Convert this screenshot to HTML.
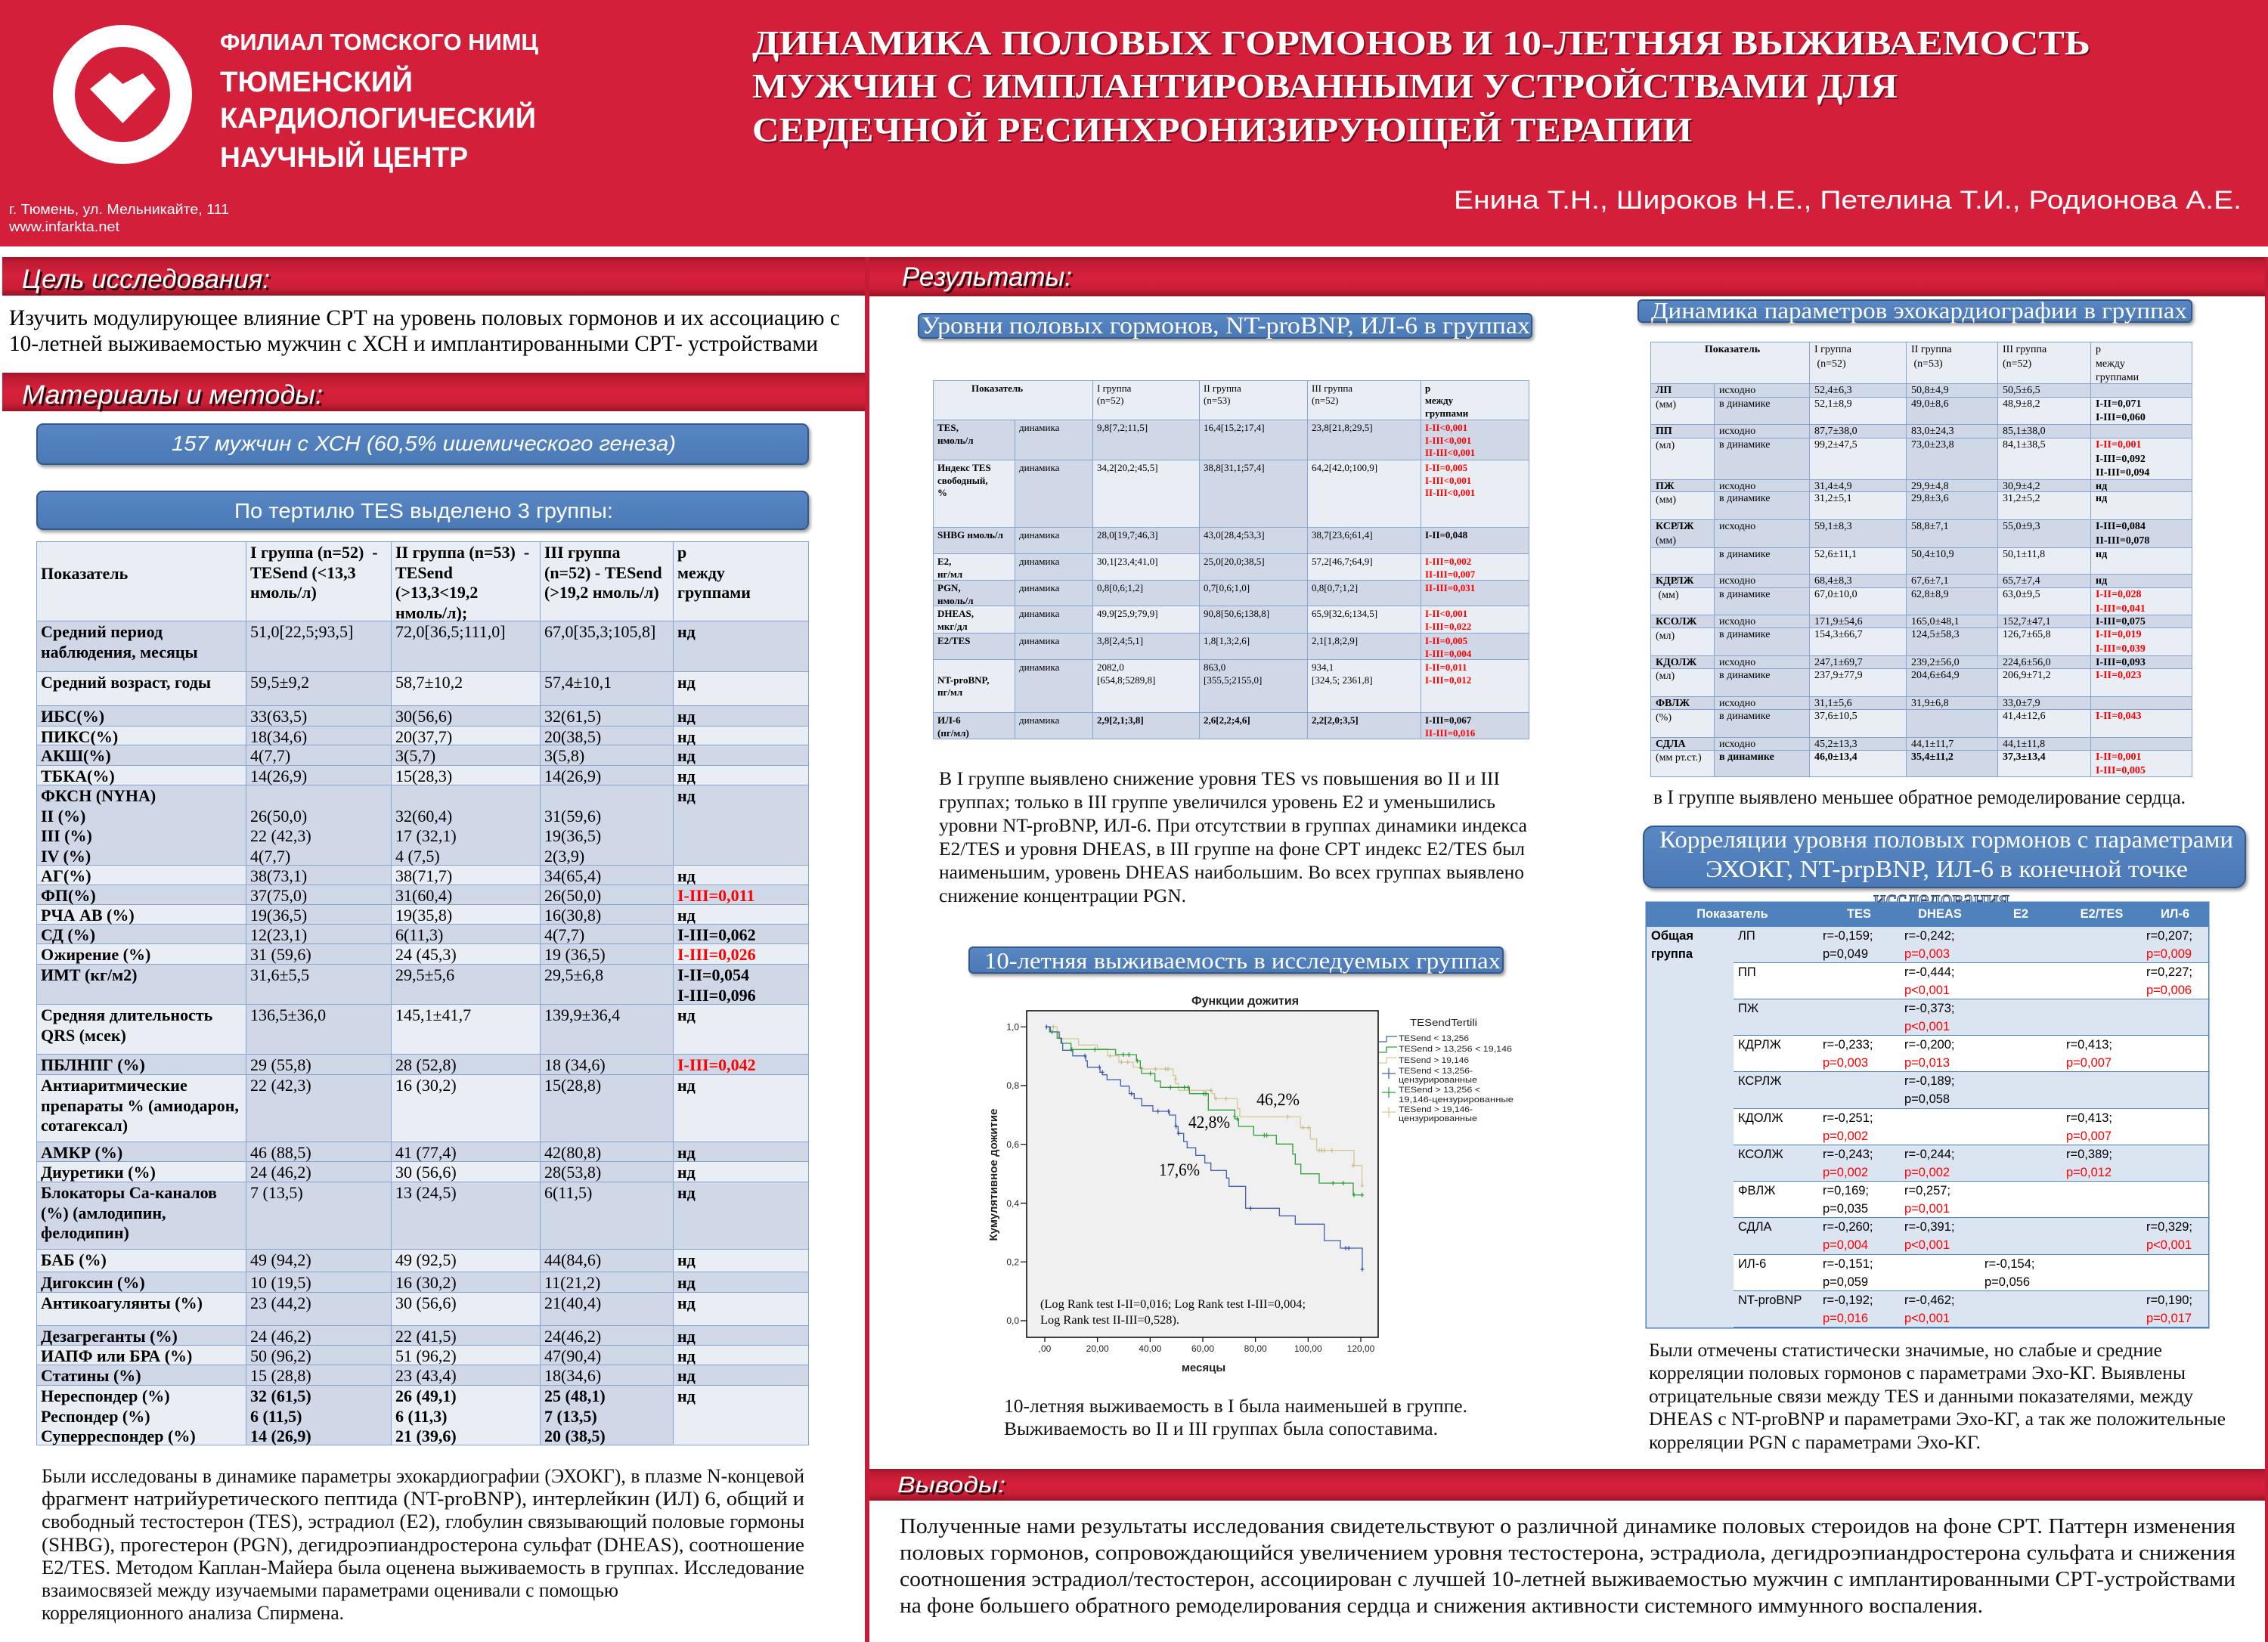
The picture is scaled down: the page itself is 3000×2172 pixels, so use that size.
<!DOCTYPE html>
<html><head><meta charset="utf-8">
<style>
*{margin:0;padding:0}
body{width:3000px;height:2172px;overflow:hidden;background:#fff}
#p{position:relative;width:3000px;height:2172px;overflow:hidden;background:#fff;font-family:"Liberation Serif","Noto Serif CJK SC",serif;color:#000}
.a{position:absolute}
.band{position:absolute;background:linear-gradient(to bottom,#a0152a 0%,#c01b33 15%,#d7213c 50%,#cc1e37 80%,#9a1326 100%)}
.bb{position:absolute;box-sizing:border-box;background:linear-gradient(to bottom,#5887c4,#4a79b6);border:2px solid #34588a;border-radius:9px;box-shadow:2px 3px 4px rgba(0,0,0,.4)}
.tb{position:absolute}
.r{display:flex}
.tb .r>div{box-sizing:border-box;height:100%;border-right:1.5px solid #86a4d0;border-bottom:1.5px solid #86a4d0;white-space:nowrap;background:#e9edf4;overflow:visible}
.tb .r>div:first-child{border-left:1.5px solid #86a4d0}
.tb .h>div{border-top:1.5px solid #86a4d0}
.tb .d>div{background:#d0d8e8}
.tb .l>div:nth-child(2),.tb .l>div:nth-child(4){background:#d0d8e8}
.rd{color:#f00}
.o{position:relative}
.t1{left:48px;top:716px;width:1022px;font-size:22px;line-height:26.5px}
.t1 .r>div{padding:1px 0 0 5px}
.t1 .r>div:nth-child(1){width:278px;font-weight:bold}
.t1 .r>div:nth-child(2){width:192px}
.t1 .r>div:nth-child(3){width:197px}
.t1 .r>div:nth-child(4){width:176px}
.t1 .r>div:nth-child(5){width:179px;font-weight:bold}
.t1 .h>div{font-weight:bold}
.t2{left:1234px;top:502.5px;width:789px;font-size:13px;line-height:16.5px}
.t2 .r>div{padding:2px 0 0 5px}
.t2 .r>div:nth-child(1){width:109px;font-weight:bold}
.t2 .r>div:nth-child(2){width:103px}
.t2 .r>div:nth-child(3){width:141px}
.t2 .r>div:nth-child(4){width:143px}
.t2 .r>div:nth-child(5){width:150px}
.t2 .r>div:nth-child(6){width:143px;font-weight:bold}
.t3{left:2183px;top:452px;width:717px;font-size:14px;line-height:18.5px}
.t3 .r>div{padding:0 0 0 6px}
.t3 .r>div:nth-child(1){width:85px}
.t3 .r>div:nth-child(2){width:126px}
.t3 .r>div:nth-child(3){width:128px}
.t3 .r>div:nth-child(4){width:121px}
.t3 .r>div:nth-child(5){width:123px}
.t3 .r>div:nth-child(6){width:134px;font-weight:bold}
.t4{position:absolute;left:2178px;top:1193.5px;width:743px;font-family:"Liberation Sans",sans-serif;font-size:16.5px;line-height:24px;box-shadow:0 0 0 1.5px #4f81bd;background:#fff}
.t4 .r>div{box-sizing:border-box;height:100%;padding-left:6px;white-space:nowrap}
.t4 .r>div:nth-child(1){width:115px;background:#dbe5f1;font-weight:bold}
.t4 .r>div:nth-child(2){width:112px}
.t4 .r>div:nth-child(3){width:108px}
.t4 .r>div:nth-child(4){width:106px}
.t4 .r>div:nth-child(5){width:108px}
.t4 .r>div:nth-child(6){width:106px}
.t4 .r>div:nth-child(7){width:88px}
.t4 .r>div:not(:first-child){border-bottom:1.5px solid #4f81bd}
.t4 .b>div{background:#dbe5f1}
.t4 .hh{height:32px}
.t4 .hh>div{background:#4f81bd!important;color:#fff;font-weight:bold;text-align:center;padding:3px 0 0 0!important;border:none!important}
</style></head>
<body><div id="p">

<!-- header -->
<div class="a" style="left:0;top:0;width:3000px;height:326px;background:#d41f3b"></div>

<!-- bands -->
<div class="band" style="left:3px;top:340px;width:1141px;height:51px"></div>
<div class="band" style="left:1150px;top:340px;width:1850px;height:52px"></div>
<div class="band" style="left:3px;top:493px;width:1141px;height:51px"></div>
<div class="band" style="left:1150px;top:1943px;width:1850px;height:42px"></div>

<!-- vertical red lines -->
<div class="a" style="left:1144px;top:340px;width:6px;height:1832px;background:#c41c36"></div>
<div class="a" style="left:2996px;top:340px;width:4px;height:1832px;background:#c41c36"></div>

<!-- blue boxes -->
<div class="bb" style="left:48px;top:560px;width:1022px;height:55px"></div>
<div class="bb" style="left:48px;top:649px;width:1022px;height:52px"></div>
<div class="bb" style="left:1214px;top:414px;width:813px;height:34px;border-radius:6px"></div>
<div class="bb" style="left:1281px;top:1252px;width:708px;height:36px;border-radius:6px"></div>
<div class="bb" style="left:2166px;top:396px;width:734px;height:31px;border-radius:6px"></div>
<div class="bb" style="left:2173px;top:1092px;width:798px;height:83px;border-radius:14px"></div>

<!-- left table -->
<div class="tb t1">
<div class="r h" style="height:106px"><div style="padding-top:29px">Показатель</div><div>I группа (n=52)&nbsp; -<br>TESend (&lt;13,3<br>нмоль/л)</div><div>II группа (n=53)&nbsp; -<br>TESend<br>(&gt;13,3&lt;19,2<br>нмоль/л);</div><div>III группа<br>(n=52) - TESend<br>(&gt;19,2 нмоль/л)</div><div>р<br>между<br>группами</div></div>
<div class="r d" style="height:67px"><div>Средний период<br>наблюдения, месяцы</div><div>51,0[22,5;93,5]</div><div>72,0[36,5;111,0]</div><div>67,0[35,3;105,8]</div><div>нд</div></div>
<div class="r l" style="height:45px"><div>Средний возраст, годы</div><div>59,5±9,2</div><div>58,7±10,2</div><div>57,4±10,1</div><div>нд</div></div>
<div class="r d" style="height:26.5px"><div>ИБС(%)</div><div>33(63,5)</div><div>30(56,6)</div><div>32(61,5)</div><div>нд</div></div>
<div class="r l" style="height:25.5px"><div>ПИКС(%)</div><div>18(34,6)</div><div>20(37,7)</div><div>20(38,5)</div><div>нд</div></div>
<div class="r d" style="height:27px"><div>АКШ(%)</div><div>4(7,7)</div><div>3(5,7)</div><div>3(5,8)</div><div>нд</div></div>
<div class="r l" style="height:26px"><div>ТБКА(%)</div><div>14(26,9)</div><div>15(28,3)</div><div>14(26,9)</div><div>нд</div></div>
<div class="r d" style="height:106px"><div>ФКСН (NYHA)<br>II (%)<br>III (%)<br>IV (%)</div><div><br>26(50,0)<br>22 (42,3)<br>4(7,7)</div><div><br>32(60,4)<br>17 (32,1)<br>4 (7,5)</div><div><br>31(59,6)<br>19(36,5)<br>2(3,9)</div><div>нд</div></div>
<div class="r l" style="height:26px"><div>АГ(%)</div><div>38(73,1)</div><div>38(71,7)</div><div>34(65,4)</div><div>нд</div></div>
<div class="r d" style="height:26px"><div>ФП(%)</div><div>37(75,0)</div><div>31(60,4)</div><div>26(50,0)</div><div class="rd">I-III=0,011</div></div>
<div class="r l" style="height:26px"><div>РЧА АВ (%)</div><div>19(36,5)</div><div>19(35,8)</div><div>16(30,8)</div><div>нд</div></div>
<div class="r d" style="height:26px"><div>СД (%)</div><div>12(23,1)</div><div>6(11,3)</div><div>4(7,7)</div><div>I-III=0,062</div></div>
<div class="r l" style="height:27px"><div>Ожирение (%)</div><div>31 (59,6)</div><div>24 (45,3)</div><div>19 (36,5)</div><div class="rd">I-III=0,026</div></div>
<div class="r d" style="height:53px"><div>ИМТ (кг/м2)</div><div>31,6±5,5</div><div>29,5±5,6</div><div>29,5±6,8</div><div>I-II=0,054<br>I-III=0,096</div></div>
<div class="r l" style="height:66px"><div>Средняя длительность<br>QRS (мсек)</div><div>136,5±36,0</div><div>145,1±41,7</div><div>139,9±36,4</div><div>нд</div></div>
<div class="r d" style="height:27px"><div>ПБЛНПГ (%)</div><div>29 (55,8)</div><div>28 (52,8)</div><div>18 (34,6)</div><div class="rd">I-III=0,042</div></div>
<div class="r l" style="height:89px"><div>Антиаритмические<br>препараты % (амиодарон,<br>сотагексал)</div><div>22 (42,3)</div><div>16 (30,2)</div><div>15(28,8)</div><div>нд</div></div>
<div class="r d" style="height:26px"><div>АМКР (%)</div><div>46 (88,5)</div><div>41 (77,4)</div><div>42(80,8)</div><div>нд</div></div>
<div class="r l" style="height:27px"><div>Диуретики (%)</div><div>24 (46,2)</div><div>30 (56,6)</div><div>28(53,8)</div><div>нд</div></div>
<div class="r d" style="height:89px"><div>Блокаторы Са-каналов<br>(%) (амлодипин,<br>фелодипин)</div><div>7 (13,5)</div><div>13 (24,5)</div><div>6(11,5)</div><div>нд</div></div>
<div class="r l" style="height:30px"><div>БАБ (%)</div><div>49 (94,2)</div><div>49 (92,5)</div><div>44(84,6)</div><div>нд</div></div>
<div class="r d" style="height:27px"><div>Дигоксин (%)</div><div>10 (19,5)</div><div>16 (30,2)</div><div>11(21,2)</div><div>нд</div></div>
<div class="r l" style="height:44px"><div>Антикоагулянты (%)</div><div>23 (44,2)</div><div>30 (56,6)</div><div>21(40,4)</div><div>нд</div></div>
<div class="r d" style="height:26px"><div>Дезагреганты (%)</div><div>24 (46,2)</div><div>22 (41,5)</div><div>24(46,2)</div><div>нд</div></div>
<div class="r l" style="height:26px"><div>ИАПФ или БРА (%)</div><div>50 (96,2)</div><div>51 (96,2)</div><div>47(90,4)</div><div>нд</div></div>
<div class="r d" style="height:27px"><div>Статины (%)</div><div>15 (28,8)</div><div>23 (43,4)</div><div>18(34,6)</div><div>нд</div></div>
<div class="r l" style="height:79px"><div>Нереспондер (%)<br>Респондер (%)<br>Суперреспондер (%)</div><div><b>32 (61,5)<br>6 (11,5)<br>14 (26,9)</b></div><div><b>26 (49,1)<br>6 (11,3)<br>21 (39,6)</b></div><div><b>25 (48,1)<br>7 (13,5)<br>20 (38,5)</b></div><div>нд</div></div>
</div>

<!-- hormones table -->
<div class="tb t2">
<div class="r h" style="height:53.5px"><div style="width:212px;padding-left:50px;font-weight:bold">Показатель</div><div style="width:141px">I группа<br>(n=52)</div><div style="width:143px">II группа<br>(n=53)</div><div style="width:150px">III группа<br>(n=52)</div><div style="width:143px;font-weight:bold">р<br>между<br>группами</div></div>
<div class="r d" style="height:53px"><div>TES,<br>нмоль/л</div><div>динамика</div><div>9,8[7,2;11,5]</div><div>16,4[15,2;17,4]</div><div>23,8[21,8;29,5]</div><div class="rd">I-II&lt;0,001<br>I-III&lt;0,001<br>II-III&lt;0,001</div></div>
<div class="r l" style="height:89px"><div>Индекс TES<br>свободный,<br>%</div><div>динамика</div><div>34,2[20,2;45,5]</div><div>38,8[31,1;57,4]</div><div>64,2[42,0;100,9]</div><div class="rd">I-II=0,005<br>I-III&lt;0,001<br>II-III&lt;0,001</div></div>
<div class="r d" style="height:35px"><div>SHBG нмоль/л</div><div>динамика</div><div>28,0[19,7;46,3]</div><div>43,0[28,4;53,3]</div><div>38,7[23,6;61,4]</div><div>I-II=0,048</div></div>
<div class="r l" style="height:35px"><div>E2,<br>нг/мл</div><div>динамика</div><div>30,1[23,4;41,0]</div><div>25,0[20,0;38,5]</div><div>57,2[46,7;64,9]</div><div class="rd">I-III=0,002<br>II-III=0,007</div></div>
<div class="r d" style="height:34px"><div>PGN,<br>нмоль/л</div><div>динамика</div><div>0,8[0,6;1,2]</div><div>0,7[0,6;1,0]</div><div>0,8[0,7;1,2]</div><div class="rd">II-III=0,031</div></div>
<div class="r l" style="height:36px"><div>DHEAS,<br>мкг/дл</div><div>динамика</div><div>49,9[25,9;79,9]</div><div>90,8[50,6;138,8]</div><div>65,9[32,6;134,5]</div><div class="rd">I-II&lt;0,001<br>I-III=0,022</div></div>
<div class="r d" style="height:35px"><div>E2/TES</div><div>динамика</div><div>3,8[2,4;5,1]</div><div>1,8[1,3;2,6]</div><div>2,1[1,8;2,9]</div><div class="rd">I-II=0,005<br>I-III=0,004</div></div>
<div class="r l" style="height:70px"><div><br>NT-proBNP,<br>пг/мл</div><div>динамика</div><div>2082,0<br>[654,8;5289,8]</div><div>863,0<br>[355,5;2155,0]</div><div>934,1<br>[324,5; 2361,8]</div><div class="rd">I-II=0,011<br>I-III=0,012</div></div>
<div class="r d" style="height:35px"><div>ИЛ-6<br>(пг/мл)</div><div>динамика</div><div><b>2,9[2,1;3,8]</b></div><div><b>2,6[2,2;4,6]</b></div><div><b>2,2[2,0;3,5]</b></div><div>I-III=0,067<br><span class="rd">II-III=0,016</span></div></div>
</div>

<!-- echo table -->
<div class="tb t3">
<div class="r h" style="height:56px"><div style="width:211px;text-align:center;font-weight:bold;padding-top:1px">Показатель</div><div style="width:128px;padding-top:1px">I группа<br>&nbsp;(n=52)</div><div style="width:121px;padding-top:1px">II группа<br>&nbsp;(n=53)</div><div style="width:123px;padding-top:1px">III группа<br>(n=52)</div><div style="width:134px;padding-top:1px;font-weight:normal">р<br>между<br>группами</div></div>
<div class="r d" style="height:17.5px"><div><span class="o"><b>ЛП</b><br>(мм)</span></div><div>исходно</div><div>52,4±6,3</div><div>50,8±4,9</div><div>50,5±6,5</div><div></div></div>
<div class="r l" style="height:36.5px"><div></div><div>в динамике</div><div>52,1±8,9</div><div>49,0±8,6</div><div>48,9±8,2</div><div>I-II=0,071<br>I-III=0,060</div></div>
<div class="r d" style="height:18px"><div><span class="o"><b>ПП</b><br>(мл)</span></div><div>исходно</div><div>87,7±38,0</div><div>83,0±24,3</div><div>85,1±38,0</div><div></div></div>
<div class="r l" style="height:54.5px"><div></div><div>в динамике</div><div>99,2±47,5</div><div>73,0±23,8</div><div>84,1±38,5</div><div><span class="rd">I-II=0,001</span><br>I-III=0,092<br>II-III=0,094</div></div>
<div class="r d" style="height:16.5px"><div><span class="o"><b>ПЖ</b><br>(мм)</span></div><div>исходно</div><div>31,4±4,9</div><div>29,9±4,8</div><div>30,9±4,2</div><div>нд</div></div>
<div class="r l" style="height:37px"><div></div><div>в динамике</div><div>31,2±5,1</div><div>29,8±3,6</div><div>31,2±5,2</div><div>нд</div></div>
<div class="r d" style="height:37px"><div><span class="o"><b>КСРЛЖ</b><br>(мм)</span></div><div>исходно</div><div>59,1±8,3</div><div>58,8±7,1</div><div>55,0±9,3</div><div>I-III=0,084<br>II-III=0,078</div></div>
<div class="r l" style="height:35px"><div></div><div>в динамике</div><div>52,6±11,1</div><div>50,4±10,9</div><div>50,1±11,8</div><div>нд</div></div>
<div class="r d" style="height:18px"><div><span class="o"><b>КДРЛЖ</b><br>&nbsp;(мм)</span></div><div>исходно</div><div>68,4±8,3</div><div>67,6±7,1</div><div>65,7±7,4</div><div>нд</div></div>
<div class="r l" style="height:36px"><div></div><div>в динамике</div><div>67,0±10,0</div><div>62,8±8,9</div><div>63,0±9,5</div><div class="rd">I-II=0,028<br>I-III=0,041</div></div>
<div class="r d" style="height:17px"><div><span class="o"><b>КСОЛЖ</b><br>(мл)</span></div><div>исходно</div><div>171,9±54,6</div><div>165,0±48,1</div><div>152,7±47,1</div><div>I-III=0,075</div></div>
<div class="r l" style="height:36.5px"><div></div><div>в динамике</div><div>154,3±66,7</div><div>124,5±58,3</div><div>126,7±65,8</div><div class="rd">I-II=0,019<br>I-III=0,039</div></div>
<div class="r d" style="height:17.5px"><div><span class="o"><b>КДОЛЖ</b><br>(мл)</span></div><div>исходно</div><div>247,1±69,7</div><div>239,2±56,0</div><div>224,6±56,0</div><div>I-III=0,093</div></div>
<div class="r l" style="height:37px"><div></div><div>в динамике</div><div>237,9±77,9</div><div>204,6±64,9</div><div>206,9±71,2</div><div class="rd">I-II=0,023</div></div>
<div class="r d" style="height:17px"><div><span class="o"><b>ФВЛЖ</b><br>(%)</span></div><div>исходно</div><div>31,1±5,6</div><div>31,9±6,8</div><div>33,0±7,9</div><div></div></div>
<div class="r l" style="height:36.5px"><div></div><div>в динамике</div><div>37,6±10,5</div><div></div><div>41,4±12,6</div><div class="rd">I-II=0,043</div></div>
<div class="r d" style="height:17px"><div><span class="o"><b>СДЛА</b><br>(мм рт.ст.)</span></div><div>исходно</div><div>45,2±13,3</div><div>44,1±11,7</div><div>44,1±11,8</div><div></div></div>
<div class="r l" style="height:35.5px"><div></div><div><b>в динамике</b></div><div><b>46,0±13,4</b></div><div><b>35,4±11,2</b></div><div><b>37,3±13,4</b></div><div class="rd">I-II=0,001<br>I-III=0,005</div></div>
</div>

<!-- correlation table -->
<div class="t4">
<div class="r hh"><div style="width:227px">Показатель</div><div style="width:108px">TES</div><div style="width:106px">DHEAS</div><div style="width:108px">E2</div><div style="width:106px">E2/TES</div><div style="width:88px">ИЛ-6</div></div>
<div class="r b" style="height:48.2px"><div>Общая<br>группа</div><div>ЛП</div><div>r=-0,159;<br>p=0,049</div><div>r=-0,242;<br><span class="rd">p=0,003</span></div><div></div><div></div><div>r=0,207;<br><span class="rd">p=0,009</span></div></div>
<div class="r" style="height:48.2px"><div></div><div>ПП</div><div></div><div>r=-0,444;<br><span class="rd">p&lt;0,001</span></div><div></div><div></div><div>r=0,227;<br><span class="rd">p=0,006</span></div></div>
<div class="r b" style="height:48.3px"><div></div><div>ПЖ</div><div></div><div>r=-0,373;<br><span class="rd">p&lt;0,001</span></div><div></div><div></div><div></div></div>
<div class="r" style="height:48.2px"><div></div><div>КДРЛЖ</div><div>r=-0,233;<br><span class="rd">p=0,003</span></div><div>r=-0,200;<br><span class="rd">p=0,013</span></div><div></div><div>r=0,413;<br><span class="rd">p=0,007</span></div><div></div></div>
<div class="r b" style="height:48.2px"><div></div><div>КСРЛЖ</div><div></div><div>r=-0,189;<br>p=0,058</div><div></div><div></div><div></div></div>
<div class="r" style="height:48.3px"><div></div><div>КДОЛЖ</div><div>r=-0,251;<br><span class="rd">p=0,002</span></div><div></div><div></div><div>r=0,413;<br><span class="rd">p=0,007</span></div><div></div></div>
<div class="r b" style="height:48.2px"><div></div><div>КСОЛЖ</div><div>r=-0,243;<br><span class="rd">p=0,002</span></div><div>r=-0,244;<br><span class="rd">p=0,002</span></div><div></div><div>r=0,389;<br><span class="rd">p=0,012</span></div><div></div></div>
<div class="r" style="height:48.2px"><div></div><div>ФВЛЖ</div><div>r=0,169;<br>p=0,035</div><div>r=0,257;<br><span class="rd">p=0,001</span></div><div></div><div></div><div></div></div>
<div class="r b" style="height:48.3px"><div></div><div>СДЛА</div><div>r=-0,260;<br><span class="rd">p=0,004</span></div><div>r=-0,391;<br><span class="rd">p&lt;0,001</span></div><div></div><div></div><div>r=0,329;<br><span class="rd">p&lt;0,001</span></div></div>
<div class="r" style="height:48.2px"><div></div><div>ИЛ-6</div><div>r=-0,151;<br>p=0,059</div><div></div><div>r=-0,154;<br>p=0,056</div><div></div><div></div></div>
<div class="r b" style="height:48.2px"><div></div><div>NT-proBNP</div><div>r=-0,192;<br><span class="rd">p=0,016</span></div><div>r=-0,462;<br><span class="rd">p&lt;0,001</span></div><div></div><div></div><div>r=0,190;<br><span class="rd">p=0,017</span></div></div>
</div>

<!-- overlay -->
<svg class="a" style="left:0;top:0" width="3000" height="2172" viewBox="0 0 3000 2172">
<defs><clipPath id="cp"><rect x="2100" y="1170" width="900" height="23.5"/></clipPath></defs>

<!-- logo -->
<circle cx="162" cy="125" r="77.5" fill="none" stroke="#fff" stroke-width="29"/>
<polygon points="119,117.7 145.4,96 162.4,111 189,97 206,117.7 162.4,163" fill="#fff"/>
<g fill="#fff" font-family="Liberation Sans, sans-serif" font-weight="bold">
<text x="291" y="66" font-size="31" textLength="421" lengthAdjust="spacingAndGlyphs">ФИЛИАЛ ТОМСКОГО НИМЦ</text>
<text x="291" y="121" font-size="38" textLength="255" lengthAdjust="spacingAndGlyphs">ТЮМЕНСКИЙ</text>
<text x="291" y="169" font-size="38" textLength="418" lengthAdjust="spacingAndGlyphs">КАРДИОЛОГИЧЕСКИЙ</text>
<text x="291" y="221" font-size="38" textLength="328" lengthAdjust="spacingAndGlyphs">НАУЧНЫЙ ЦЕНТР</text>
</g>
<g fill="#fff" font-family="Liberation Sans, sans-serif" font-size="18">
<text x="12" y="283" textLength="291" lengthAdjust="spacingAndGlyphs">г. Тюмень, ул. Мельникайте, 111</text>
<text x="12" y="306" textLength="146" lengthAdjust="spacingAndGlyphs">www.infarkta.net</text>
</g>

<!-- title -->
<g font-family="Liberation Serif, serif" font-weight="bold" font-size="46">
<g fill="#5a0a14" fill-opacity="0.75">
<text x="997" y="74" textLength="1770" lengthAdjust="spacingAndGlyphs">ДИНАМИКА ПОЛОВЫХ ГОРМОНОВ И 10-ЛЕТНЯЯ ВЫЖИВАЕМОСТЬ</text>
<text x="997" y="131" textLength="1515" lengthAdjust="spacingAndGlyphs">МУЖЧИН С ИМПЛАНТИРОВАННЫМИ УСТРОЙСТВАМИ ДЛЯ</text>
<text x="997" y="189" textLength="1243" lengthAdjust="spacingAndGlyphs">СЕРДЕЧНОЙ РЕСИНХРОНИЗИРУЮЩЕЙ ТЕРАПИИ</text>
</g>
<g fill="#fff">
<text x="995" y="72" textLength="1770" lengthAdjust="spacingAndGlyphs">ДИНАМИКА ПОЛОВЫХ ГОРМОНОВ И 10-ЛЕТНЯЯ ВЫЖИВАЕМОСТЬ</text>
<text x="995" y="129" textLength="1515" lengthAdjust="spacingAndGlyphs">МУЖЧИН С ИМПЛАНТИРОВАННЫМИ УСТРОЙСТВАМИ ДЛЯ</text>
<text x="995" y="187" textLength="1243" lengthAdjust="spacingAndGlyphs">СЕРДЕЧНОЙ РЕСИНХРОНИЗИРУЮЩЕЙ ТЕРАПИИ</text>
</g>
</g>
<text x="1923" y="276" fill="#fff" font-family="Liberation Sans, sans-serif" font-size="34" textLength="1042" lengthAdjust="spacingAndGlyphs">Енина Т.Н., Широков Н.Е., Петелина Т.И., Родионова А.Е.</text>

<!-- band labels -->
<g font-family="Liberation Sans, sans-serif" font-style="italic" font-size="35">
<g fill="#1a0306" fill-opacity="0.9">
<text x="32" y="384" textLength="328" lengthAdjust="spacingAndGlyphs">Цель исследования:</text>
<text x="32" y="537" textLength="398" lengthAdjust="spacingAndGlyphs">Материалы и методы:</text>
<text x="1196" y="381" textLength="225" lengthAdjust="spacingAndGlyphs">Результаты:</text>
<text x="1190" y="1977" font-size="30" textLength="143" lengthAdjust="spacingAndGlyphs">Выводы:</text>
</g>
<g fill="#fff">
<text x="29" y="381" textLength="328" lengthAdjust="spacingAndGlyphs">Цель исследования:</text>
<text x="29" y="534" textLength="398" lengthAdjust="spacingAndGlyphs">Материалы и методы:</text>
<text x="1193" y="378" textLength="225" lengthAdjust="spacingAndGlyphs">Результаты:</text>
<text x="1187" y="1974" font-size="30" textLength="143" lengthAdjust="spacingAndGlyphs">Выводы:</text>
</g>
</g>

<!-- objective -->
<g font-family="Liberation Serif, serif" font-size="30" fill="#000">
<text x="12" y="430" textLength="1099" lengthAdjust="spacingAndGlyphs">Изучить модулирующее влияние СРТ на уровень половых гормонов и их ассоциацию с</text>
<text x="12" y="464" textLength="1070" lengthAdjust="spacingAndGlyphs">10-летней выживаемостью мужчин с ХСН и имплантированными СРТ- устройствами</text>
</g>

<!-- left blue box texts -->
<g fill="#fff" font-family="Liberation Sans, sans-serif" font-size="28">
<text x="227" y="596" font-style="italic" textLength="667" lengthAdjust="spacingAndGlyphs">157 мужчин с ХСН (60,5% ишемического генеза)</text>
<text x="310" y="685" textLength="501" lengthAdjust="spacingAndGlyphs">По тертилю TES выделено 3 группы:</text>
</g>

<!-- left paragraph -->
<g font-family="Liberation Serif, serif" font-size="26" fill="#111">
<text x="55" y="1961" textLength="1009" lengthAdjust="spacingAndGlyphs">Были исследованы в динамике параметры эхокардиографии (ЭХОКГ), в плазме N-концевой</text>
<text x="55" y="1991" textLength="1009" lengthAdjust="spacingAndGlyphs">фрагмент натрийуретического пептида (NT-proBNP), интерлейкин (ИЛ) 6, общий и</text>
<text x="55" y="2021" textLength="1009" lengthAdjust="spacingAndGlyphs">свободный тестостерон (TES), эстрадиол (E2), глобулин связывающий половые гормоны</text>
<text x="55" y="2052" textLength="1009" lengthAdjust="spacingAndGlyphs">(SHBG), прогестерон (PGN), дегидроэпиандростерона сульфат (DHEAS), соотношение</text>
<text x="55" y="2082" textLength="1009" lengthAdjust="spacingAndGlyphs">E2/TES. Методом Каплан-Майера была оценена выживаемость в группах. Исследование</text>
<text x="55" y="2112" textLength="763" lengthAdjust="spacingAndGlyphs">взаимосвязей между изучаемыми параметрами оценивали с помощью</text>
<text x="55" y="2142" textLength="400" lengthAdjust="spacingAndGlyphs">корреляционного анализа Спирмена.</text>
</g>

<!-- result banners -->
<g fill="#fff" font-family="Liberation Serif, serif">
<text x="1219" y="441" font-size="32" textLength="805" lengthAdjust="spacingAndGlyphs">Уровни половых гормонов, NT-proBNP, ИЛ-6  в группах</text>
<text x="1302" y="1281" font-size="31" textLength="683" lengthAdjust="spacingAndGlyphs">10-летняя выживаемость в исследуемых группах</text>
<text x="2184" y="421" font-size="31" textLength="709" lengthAdjust="spacingAndGlyphs">Динамика параметров эхокардиографии в группах</text>
<text x="2195" y="1121" font-size="32" textLength="759" lengthAdjust="spacingAndGlyphs">Корреляции уровня половых гормонов с параметрами</text>
<text x="2256" y="1160" font-size="32" textLength="638" lengthAdjust="spacingAndGlyphs">ЭХОКГ, NT-prpBNP, ИЛ-6  в конечной точке</text>
<text x="2478" y="1199" font-size="32" fill="#dfe6f2" stroke="#2c4c7c" stroke-width="1.2" clip-path="url(#cp)" textLength="180" lengthAdjust="spacingAndGlyphs">исследования</text>
</g>

<!-- middle paragraph -->
<g font-family="Liberation Serif, serif" font-size="25" fill="#111">
<text x="1242" y="1038" textLength="742" lengthAdjust="spacingAndGlyphs">В I группе выявлено снижение уровня TES vs повышения во II  и III</text>
<text x="1242" y="1069" textLength="736" lengthAdjust="spacingAndGlyphs">группах; только в III группе увеличился уровень E2 и уменьшились</text>
<text x="1242" y="1100" textLength="778" lengthAdjust="spacingAndGlyphs">уровни NT-proBNP, ИЛ-6. При отсутствии в группах динамики индекса</text>
<text x="1242" y="1131" textLength="775" lengthAdjust="spacingAndGlyphs">E2/TES и уровня DHEAS, в III группе на фоне СРТ индекс E2/TES был</text>
<text x="1242" y="1162" textLength="774" lengthAdjust="spacingAndGlyphs">наименьшим, уровень DHEAS наибольшим. Во всех группах выявлено</text>
<text x="1242" y="1193" textLength="327" lengthAdjust="spacingAndGlyphs">снижение концентрации PGN.</text>
<text x="1328" y="1868" textLength="613" lengthAdjust="spacingAndGlyphs">10-летняя выживаемость в I была наименьшей в группе.</text>
<text x="1328" y="1898" textLength="574" lengthAdjust="spacingAndGlyphs">Выживаемость во II и III группах была сопоставима.</text>
<text x="2187" y="1063" font-size="26" textLength="704" lengthAdjust="spacingAndGlyphs">в I группе выявлено меньшее обратное ремоделирование сердца.</text>
<text x="2181" y="1794" textLength="679" lengthAdjust="spacingAndGlyphs">Были отмечены статистически значимые, но слабые и средние</text>
<text x="2181" y="1824" textLength="710" lengthAdjust="spacingAndGlyphs">корреляции половых гормонов с параметрами Эхо-КГ. Выявлены</text>
<text x="2181" y="1855" textLength="720" lengthAdjust="spacingAndGlyphs">отрицательные связи между TES и данными показателями, между</text>
<text x="2181" y="1885" textLength="763" lengthAdjust="spacingAndGlyphs">DHEAS с NT-proBNP и параметрами Эхо-КГ, а так же положительные</text>
<text x="2181" y="1916" textLength="439" lengthAdjust="spacingAndGlyphs">корреляции PGN с параметрами Эхо-КГ.</text>
</g>

<!-- conclusions -->
<g font-family="Liberation Serif, serif" font-size="29" fill="#111">
<text x="1190" y="2028" textLength="1767" lengthAdjust="spacingAndGlyphs">Полученные нами результаты исследования свидетельствуют о различной динамике половых стероидов на фоне СРТ. Паттерн изменения</text>
<text x="1190" y="2063" textLength="1767" lengthAdjust="spacingAndGlyphs">половых гормонов, сопровождающийся увеличением уровня тестостерона, эстрадиола, дегидроэпиандростерона сульфата и снижения</text>
<text x="1190" y="2098" textLength="1767" lengthAdjust="spacingAndGlyphs">соотношения эстрадиол/тестостерон, ассоциирован с лучшей 10-летней выживаемостью мужчин с имплантированными СРТ-устройствами</text>
<text x="1190" y="2133" textLength="1433" lengthAdjust="spacingAndGlyphs">на фоне большего обратного ремоделирования сердца и снижения активности системного иммунного воспаления.</text>
</g>

<!-- chart -->
<g font-family="Liberation Sans, sans-serif" fill="#222">
<text x="1647" y="1329" font-size="16" font-weight="bold" text-anchor="middle">Функции дожития</text>
<rect x="1358" y="1337" width="465" height="432" fill="#f0f0f0" stroke="#000" stroke-width="1.5"/>
<path d="M1350,1358.3H1358M1350,1436H1358M1350,1513.7H1358M1350,1591.5H1358M1350,1669.2H1358M1350,1747H1358M1382,1769V1775M1451.7,1769V1775M1521.3,1769V1775M1591,1769V1775M1660.7,1769V1775M1730.3,1769V1775M1800,1769V1775" stroke="#000" stroke-width="1.2"/>
<g font-size="12" text-anchor="end">
<text x="1348" y="1362.5">1,0</text><text x="1348" y="1440">0,8</text><text x="1348" y="1518">0,6</text><text x="1348" y="1596">0,4</text><text x="1348" y="1673.5">0,2</text><text x="1348" y="1751">0,0</text>
</g>
<g font-size="12" text-anchor="middle">
<text x="1382" y="1788">,00</text><text x="1451.7" y="1788">20,00</text><text x="1521.3" y="1788">40,00</text><text x="1591" y="1788">60,00</text><text x="1660.7" y="1788">80,00</text><text x="1730.3" y="1788">100,00</text><text x="1800" y="1788">120,00</text>
</g>
<text x="1592" y="1814" font-size="15" font-weight="bold" text-anchor="middle">месяцы</text>
<text transform="translate(1319,1554) rotate(-90)" font-size="15" font-weight="bold" text-anchor="middle" textLength="175" lengthAdjust="spacingAndGlyphs">Кумулятивное дожитие</text>
</g>
<g transform="translate(1355 1340) scale(0.33333)" fill="none" stroke-width="4">
<path stroke="#d7c897" d="M85,55 H130 V78 H140 V102 H215 V127 H290 V142 H330 V170 H375 V195 H432 V215 H470 V222 H590 V248 H600 V280 H612 V307 H745 V320 H755 V340 H845 V380 H855 V412 H1095 V455 H1135 V500 H1160 V545 H1308 V605 H1340 V685"/>
<path stroke="#2fa33a" d="M85,55 H100 V75 H130 V100 H145 V120 H185 V145 H362 V165 H445 V190 H460 V220 H465 V240 H518 V270 H540 V295 H655 V320 H730 V385 H835 V420 H850 V450 H910 V485 H1000 V520 H1065 V560 H1075 V600 H1097 V638 H1170 V675 H1305 V722 H1345"/>
<path stroke="#4560b3" d="M85,55 H103 V75 H138 V100 H148 V120 H152 V148 H192 V170 H244 V190 H250 V215 H300 V235 H310 V245 H328 V265 H382 V290 H416 V320 H436 V340 H466 V368 H510 V390 H575 V405 H600 V450 H610 V478 H632 V510 H646 V535 H680 V565 H716 V595 H740 V625 H802 V655 H812 V688 H878 V775 H1012 V805 H1075 V838 H1190 V903 H1254 V933 H1341 V1017"/>
<path stroke="#c9b983" stroke-width="3.5" d="M108,55h14M115,46v18M333,170h14M340,161v18M378,195h14M385,186v18M403,195h14M410,186v18M513,222h14M520,213v18M553,222h14M560,213v18M563,222h14M570,213v18M593,262h14M600,253v18M733,307h14M740,298v18M753,340h14M760,331v18M793,340h14M800,331v18M1038,412h14M1045,403v18M1098,455h14M1105,446v18M1121,455h14M1128,446v18M1163,545h14M1170,536v18M1173,545h14M1180,536v18M1183,545h14M1190,536v18M1213,545h14M1220,536v18M1298,605h14M1305,596v18M1333,685h14M1340,676v18"/>
<path stroke="#259a30" stroke-width="3.5" d="M103,75h14M110,66v18M181,145h14M188,136v18M273,145h14M280,136v18M385,165h14M392,156v18M408,165h14M415,156v18M441,190h14M448,181v18M493,240h14M500,231v18M573,295h14M580,286v18M628,295h14M635,286v18M643,295h14M650,286v18M705,320h14M712,311v18M713,320h14M720,311v18M828,410h14M835,401v18M838,420h14M845,411v18M945,485h14M952,476v18M955,485h14M962,476v18M1218,675h14M1225,666v18M1258,675h14M1265,666v18M1301,722h14M1308,713v18M1333,722h14M1340,713v18"/>
<path stroke="#3550a8" stroke-width="3.5" d="M81,55h14M88,46v18M233,170h14M240,161v18M291,215h14M298,206v18M303,235h14M310,226v18M418,320h14M425,311v18M523,390h14M530,381v18M565,390h14M572,381v18M595,450h14M602,441v18M605,478h14M612,469v18M891,775h14M898,766v18M1268,933h14M1275,924v18M1280,933h14M1287,924v18M1334,1017h14M1341,1008v18"/>
</g>
<g font-family="Liberation Serif, serif" fill="#000">
<text x="1662" y="1462" font-size="23" textLength="57" lengthAdjust="spacingAndGlyphs">46,2%</text>
<text x="1572" y="1492" font-size="23" textLength="55" lengthAdjust="spacingAndGlyphs">42,8%</text>
<text x="1533" y="1555" font-size="23" textLength="54" lengthAdjust="spacingAndGlyphs">17,6%</text>
<text x="1376" y="1730" font-size="16" textLength="351" lengthAdjust="spacingAndGlyphs">(Log Rank test I-II=0,016; Log Rank test I-III=0,004;</text>
<text x="1376" y="1751" font-size="16" textLength="184" lengthAdjust="spacingAndGlyphs">Log Rank test II-III=0,528).</text>
</g>
<!-- legend -->
<g font-family="Liberation Sans, sans-serif" fill="#222" font-size="11">
<text x="1865" y="1357" font-size="13" textLength="89" lengthAdjust="spacingAndGlyphs">TESendTertili</text>
<path d="M1824,1378H1834V1371H1848" stroke="#4560b3" stroke-width="1.3" fill="none"/>
<path d="M1824,1392H1834V1385H1848" stroke="#2fa33a" stroke-width="1.3" fill="none"/>
<path d="M1824,1406H1834V1399H1848" stroke="#d7c897" stroke-width="1.3" fill="none"/>
<path d="M1828,1420H1846M1837,1413V1427" stroke="#4560b3" stroke-width="1.3"/>
<path d="M1828,1445H1846M1837,1438V1452" stroke="#2fa33a" stroke-width="1.3"/>
<path d="M1828,1471H1846M1837,1464V1478" stroke="#d7c897" stroke-width="1.3"/>
<text x="1850" y="1377" textLength="93" lengthAdjust="spacingAndGlyphs">TESend &lt; 13,256</text>
<text x="1850" y="1391" textLength="150" lengthAdjust="spacingAndGlyphs">TESend &gt; 13,256 &lt; 19,146</text>
<text x="1850" y="1406" textLength="93" lengthAdjust="spacingAndGlyphs">TESend &gt; 19,146</text>
<text x="1850" y="1420" textLength="98" lengthAdjust="spacingAndGlyphs">TESend &lt; 13,256-</text>
<text x="1850" y="1432" textLength="104" lengthAdjust="spacingAndGlyphs">цензурированные</text>
<text x="1850" y="1445" textLength="108" lengthAdjust="spacingAndGlyphs">TESend &gt; 13,256 &lt;</text>
<text x="1850" y="1458" textLength="152" lengthAdjust="spacingAndGlyphs">19,146-цензурированные</text>
<text x="1850" y="1471" textLength="98" lengthAdjust="spacingAndGlyphs">TESend &gt; 19,146-</text>
<text x="1850" y="1483" textLength="104" lengthAdjust="spacingAndGlyphs">цензурированные</text>
</g>
</svg>
</div></body></html>
